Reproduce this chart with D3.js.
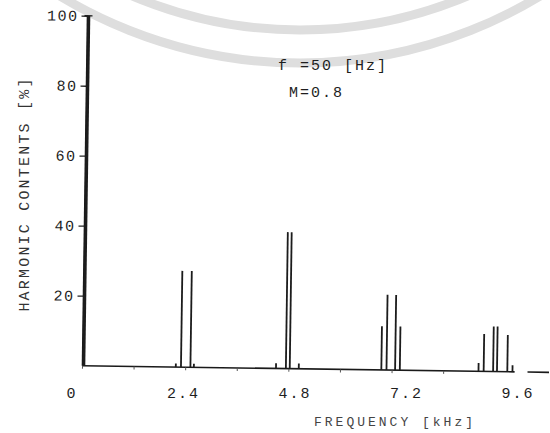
<!DOCTYPE html>
<html>
<head>
<meta charset="utf-8">
<script src="https://cdn.jsdelivr.net/npm/d3@7"></script>
<style>
  html, body { margin: 0; padding: 0; background: #fff; }
  svg { display: block; }
  text { font-family: "Liberation Mono", "DejaVu Sans Mono", monospace; fill: #1e1e1e; }
</style>
</head>
<body>
<svg id="chart" width="550" height="433"></svg>
<script>
// ---- data ----
const harmonicFreq = [0.03, 2.17, 2.29, 2.51, 2.59, 4.50, 4.73, 4.82, 5.03,
                      6.95, 7.07, 7.27, 7.38, 9.21, 9.33, 9.55, 9.64, 9.88, 10.0];   // kHz
const harmonicPct  = [100, 1, 27.5, 27.5, 1, 1.5, 39, 39, 1.5,
                      12.5, 21.5, 21.5, 12.5, 2.4, 10.7, 12.9, 12.9, 10.5, 1.9];     // %
const xTickLabels = ["0", "2.4", "4.8", "7.2", "9.6"];
const xTickValues = [0, 2.4, 4.8, 7.2, 9.6];
const xMinorTicks = [0, 1.2, 2.4, 3.6, 4.8, 6.0, 7.2, 8.4];
const yTickValues = [20, 40, 60, 80, 100];
const annotations = ["f =50 [Hz]", "M=0.8"];
const xTitle = "FREQUENCY [kHz]";
const yTitle = "HARMONIC CONTENTS [%]";

const svg = d3.select("#chart");

// faint scanned watermark rings
const wm = svg.append("g").attr("fill", "none").attr("stroke", "#dedede").attr("stroke-width", 9);
wm.append("circle").attr("cx", 300).attr("cy", -400).attr("r", 463);
wm.append("circle").attr("cx", 300).attr("cy", -400).attr("r", 430);

// scales
const x = d3.scaleLinear().domain([0, 9.6]).range([0, 412.8]);
const y = d3.scaleLinear().domain([0, 100]).range([0, -350]);
const xLab = d3.scaleLinear().domain([0, 9.6]).range([72, 518]);

// plot group, slightly rotated like the scan
const g = svg.append("g").attr("transform", "translate(82.5,365.7) rotate(0.82)");

// y axis
const yAxis = d3.axisLeft(y).tickValues(yTickValues).tickSize(6).tickPadding(3)
  .tickFormat(d => d);
const ya = g.append("g").call(yAxis);
ya.select(".domain").remove();
ya.selectAll(".tick line").attr("stroke", "#222").attr("stroke-width", 1.3);
ya.selectAll(".tick text").attr("font-family", "Liberation Mono, monospace")
  .attr("font-size", 15).attr("letter-spacing", 1.5).attr("fill", "#1e1e1e");
g.append("line").attr("x1", 0).attr("x2", 0).attr("y1", y(0)).attr("y2", y(100))
  .attr("stroke", "#1a1a1a").attr("stroke-width", 1.6);
g.append("line").attr("x1", -3).attr("x2", 5).attr("y1", y(100)).attr("y2", y(100))
  .attr("stroke", "#1a1a1a").attr("stroke-width", 1.3);

// x axis line (with the small detached piece at the right)
g.append("line").attr("x1", x(0)).attr("x2", x(10.05)).attr("y1", 0).attr("y2", 0)
  .attr("stroke", "#1a1a1a").attr("stroke-width", 1.6);
g.append("line").attr("x1", x(10.35)).attr("x2", x(10.85)).attr("y1", 0).attr("y2", 0)
  .attr("stroke", "#1a1a1a").attr("stroke-width", 1.6);
g.selectAll(".xminor").data(xMinorTicks).enter().append("line")
  .attr("class", "xminor")
  .attr("x1", d => x(d)).attr("x2", d => x(d)).attr("y1", 0).attr("y2", 3)
  .attr("stroke", "#555").attr("stroke-width", 1);

// spectral lines
const lines = harmonicFreq.map((f, i) => ({ f, v: harmonicPct[i] }));
g.selectAll(".harm").data(lines).enter().append("line")
  .attr("class", "harm")
  .attr("x1", d => x(d.f)).attr("x2", d => x(d.f))
  .attr("y1", y(0)).attr("y2", d => y(d.v))
  .attr("stroke", "#1c1c1c")
  .attr("stroke-width", (d, i) => i === 0 ? 3 : 1.8);

// x tick labels
svg.selectAll(".xlab").data(xTickValues).enter().append("text")
  .attr("class", "xlab")
  .attr("x", d => xLab(d)).attr("y", 398)
  .attr("text-anchor", "middle")
  .attr("font-size", 15).attr("letter-spacing", 2)
  .text((d, i) => xTickLabels[i]);

// annotations
svg.append("text").attr("x", 278).attr("y", 70).attr("font-size", 15)
  .attr("letter-spacing", 2).text(annotations[0]);
svg.append("text").attr("x", 289).attr("y", 97).attr("font-size", 15)
  .attr("letter-spacing", 2).text(annotations[1]);

// axis titles
svg.append("text").attr("x", 395).attr("y", 426).attr("text-anchor", "middle")
  .attr("font-size", 13).attr("letter-spacing", 3).attr("fill", "#444")
  .style("fill", "#444").text(xTitle);
svg.append("text").attr("transform", "translate(29,194) rotate(-90)")
  .attr("text-anchor", "middle").attr("font-size", 15).attr("letter-spacing", 2.2)
  .style("fill", "#333").text(yTitle);
</script>
</body>
</html>
